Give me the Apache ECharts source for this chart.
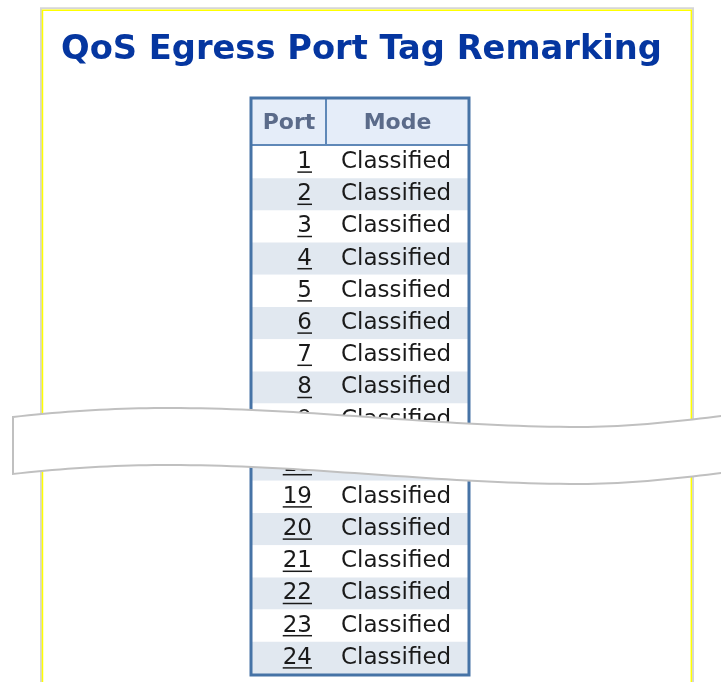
<!DOCTYPE html>
<html><head><meta charset="utf-8">
<script src="https://cdn.jsdelivr.net/npm/echarts@6/dist/echarts.min.js"></script>
<style>html,body{margin:0;padding:0;background:#fff}#c{width:721px;height:682px}</style>
</head><body><div id="c"></div>
<script>
// ---- data ----
const titleText = 'QoS Egress Port Tag Remarking';
const columns = ['Port', 'Mode'];
const ports = ['1','2','3','4','5','6','7','8','9','10','11','12','13','14','15','16','17','18','19','20','21','22','23','24'];
const modes = ['Classified','Classified','Classified','Classified','Classified','Classified','Classified','Classified',
               'Classified','Classified','Classified','Classified','Classified','Classified','Classified','Classified',
               'Classified','Classified','Classified','Classified','Classified','Classified','Classified','Classified'];
// the picture is cut: rows 1-9 above the break, rows 18-24 below it
const topPorts = ports.slice(0, 9);
const topModes = modes.slice(0, 9);
const bottomPorts = ports.slice(17);
const bottomModes = modes.slice(17);

// ---- style ----
const BODY_FONT = '23px "DejaVu Sans"';
const HEAD_FONT = 'bold 22px "DejaVu Sans"';
const TEXT_COLOR = '#1a1a1a';
const STRIPE = '#e1e8f0';
const HEAD_BG = '#e5edf9';
const HEAD_TEXT = '#5b6b8a';
const BORDER = '#4673a6';

const mctx = document.createElement('canvas').getContext('2d');
mctx.font = BODY_FONT;

function makeRender(segPorts, segModes) {
  return function (params, api) {
    const cs = params.coordSys;
    const i = params.dataIndex;
    const p = api.coord([0, api.value(1)]);
    const h = api.size([0, 1])[1];
    const cy = p[1];
    const port = segPorts[i];
    const even = parseInt(port, 10) % 2 === 0;
    const numRight = cs.x + 60;
    const w = mctx.measureText(port).width;
    return {
      type: 'group',
      children: [
        { type: 'rect', shape: { x: cs.x, y: cy - h / 2, width: cs.width, height: h },
          style: { fill: even ? STRIPE : '#ffffff' } },
        { type: 'text', x: numRight, y: cy,
          style: { text: port, font: BODY_FONT, fill: TEXT_COLOR, align: 'right', verticalAlign: 'middle' } },
        { type: 'line', shape: { x1: numRight - w, y1: cy + 10, x2: numRight, y2: cy + 10 },
          style: { stroke: TEXT_COLOR, lineWidth: 1.5 } },
        { type: 'text', x: cs.x + 89, y: cy,
          style: { text: segModes[i], font: BODY_FONT, fill: TEXT_COLOR, align: 'left', verticalAlign: 'middle' } }
      ]
    };
  };
}

// ribbon outline (decorative break mark), sampled from cubic curves
function cubic(p0, p1, p2, p3, n) {
  const out = [];
  for (let k = 0; k <= n; k++) {
    const t = k / n, u = 1 - t;
    out.push([u*u*u*p0[0] + 3*u*u*t*p1[0] + 3*u*t*t*p2[0] + t*t*t*p3[0],
              u*u*u*p0[1] + 3*u*u*t*p1[1] + 3*u*t*t*p2[1] + t*t*t*p3[1]]);
  }
  return out;
}
const topEdge = [].concat(
  cubic([13,417],[65,411],[118,408],[170,408], 20),
  cubic([170,408],[307,408],[443,427],[580,427], 40).slice(1),
  cubic([580,427],[630,427],[680,421],[730,415], 20).slice(1)
);
const RIB_H = 57;
const bottomEdge = topEdge.map(function (q) { return [q[0], q[1] + RIB_H]; }).reverse();
const ribbonPts = topEdge.concat(bottomEdge);

const chart = echarts.init(document.getElementById('c'), null, { renderer: 'canvas' });

const ROW_H = 32.2;

chart.setOption({
  animation: false,
  title: {
    text: titleText, left: 61, top: 33, padding: 0,
    textStyle: { fontFamily: 'DejaVu Sans', fontWeight: 'bold', fontSize: 33.7, color: '#0536a0', lineHeight: 34 }
  },
  grid: [
    { left: 252, width: 216, top: 146, height: 9 * ROW_H, show: false },
    { left: 252, width: 216, top: 674 - 7 * ROW_H, height: 7 * ROW_H, show: false }
  ],
  xAxis: [
    { type: 'value', gridIndex: 0, min: 0, max: 1, show: false },
    { type: 'value', gridIndex: 1, min: 0, max: 1, show: false }
  ],
  yAxis: [
    { type: 'category', gridIndex: 0, data: topPorts, inverse: true, show: false },
    { type: 'category', gridIndex: 1, data: bottomPorts, inverse: true, show: false }
  ],
  series: [
    { type: 'custom', xAxisIndex: 0, yAxisIndex: 0, z: 2, encode: { x: 0, y: 1 },
      data: topPorts.map(function (p) { return [0, p]; }), renderItem: makeRender(topPorts, topModes), silent: true },
    { type: 'custom', xAxisIndex: 1, yAxisIndex: 1, z: 2, encode: { x: 0, y: 1 },
      data: bottomPorts.map(function (p) { return [0, p]; }), renderItem: makeRender(bottomPorts, bottomModes), silent: true }
  ],
  graphic: [
    // page frame
    { type: 'rect', z: 0, shape: { x: 41, y: 8.3, width: 652, height: 800 },
      style: { fill: 'none', stroke: '#d6d6d6', lineWidth: 2 }, silent: true },
    { type: 'rect', z: 0, shape: { x: 42.5, y: 10.2, width: 648.8, height: 800 },
      style: { fill: 'none', stroke: '#ffff00', lineWidth: 1.5 }, silent: true },
    // header
    { type: 'rect', z: 1, shape: { x: 252, y: 99, width: 216, height: 46 },
      style: { fill: HEAD_BG }, silent: true },
    { type: 'line', z: 5, shape: { x1: 326, y1: 99, x2: 326, y2: 145 },
      style: { stroke: '#5f88b8', lineWidth: 2 }, silent: true },
    { type: 'line', z: 5, shape: { x1: 252, y1: 145, x2: 468, y2: 145 },
      style: { stroke: '#5f88b8', lineWidth: 2 }, silent: true },
    { type: 'text', z: 5, x: 289, y: 123,
      style: { text: columns[0], font: HEAD_FONT, fill: HEAD_TEXT, align: 'center', verticalAlign: 'middle' }, silent: true },
    { type: 'text', z: 5, x: 397.5, y: 123,
      style: { text: columns[1], font: HEAD_FONT, fill: HEAD_TEXT, align: 'center', verticalAlign: 'middle' }, silent: true },
    // table border
    { type: 'rect', z: 10, shape: { x: 251, y: 98, width: 218, height: 577 },
      style: { fill: 'none', stroke: BORDER, lineWidth: 3 }, silent: true },
    // break ribbon
    { type: 'polygon', z: 20, shape: { points: ribbonPts },
      style: { fill: '#ffffff', stroke: '#c0c0c0', lineWidth: 2 }, silent: true }
  ]
});
</script>
</body></html>
